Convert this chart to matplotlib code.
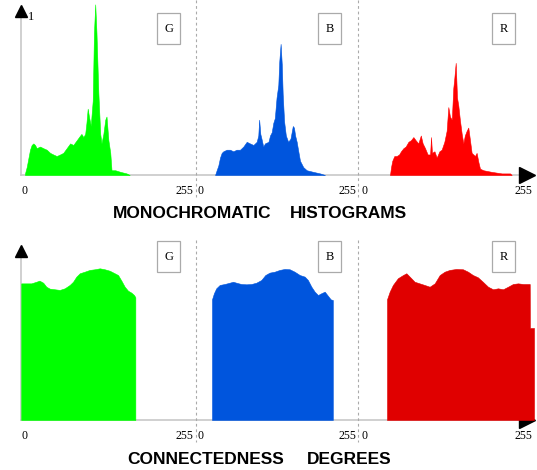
import numpy as np
import matplotlib
matplotlib.use("Agg")
import matplotlib.pyplot as plt
from matplotlib.patches import Rectangle

# ---- data ----
channels = ["G", "B", "R"]

# monochromatic histograms: intensity (0-255), relative height
g_hist_x = [0, 2.7, 8, 10.6, 13.3, 16, 18.6, 24, 29, 34.6, 40, 45, 50.5, 56, 61, 66.5, 72, 77,
            82.5, 88, 90, 93, 96, 98, 100, 102, 105, 106, 108, 110, 112, 114, 117, 120, 122,
            125, 128, 130, 133, 136, 138, 144, 152, 162, 167]
g_hist_y = [0.01, 0.05, 0.16, 0.19, 0.20, 0.19, 0.17, 0.18, 0.17, 0.16, 0.14, 0.13, 0.12, 0.13,
            0.14, 0.17, 0.20, 0.19, 0.22, 0.25, 0.26, 0.24, 0.26, 0.33, 0.42, 0.37, 0.31, 0.37,
            0.47, 0.90, 1.08, 0.90, 0.52, 0.26, 0.20, 0.26, 0.35, 0.37, 0.22, 0.14, 0.03, 0.03,
            0.02, 0.01, 0.0]

b_hist_x = [26, 28.7, 31.6, 34.5, 37.4, 40.2, 46, 51.7, 57.4, 63, 69, 74.7, 80.5, 86, 92, 97.7,
            100.5, 102, 104, 106, 109, 112, 118, 120.7, 123.6, 126.4, 129, 132, 135, 136.7, 139,
            141, 142.6, 145, 148, 152, 156, 160, 162, 164, 166.7, 169.5, 172.4, 178, 184, 195,
            207, 215.5]
b_hist_y = [0.0, 0.03, 0.06, 0.11, 0.14, 0.15, 0.16, 0.16, 0.15, 0.16, 0.16, 0.18, 0.21, 0.20,
            0.19, 0.21, 0.25, 0.35, 0.26, 0.23, 0.18, 0.20, 0.21, 0.25, 0.27, 0.33, 0.36, 0.49,
            0.57, 0.72, 0.83, 0.70, 0.51, 0.34, 0.25, 0.21, 0.23, 0.31, 0.30, 0.25, 0.21, 0.15,
            0.09, 0.05, 0.03, 0.02, 0.01, 0.0]

r_hist_x = [40.3, 42, 44, 47.3, 51, 55, 58, 62, 65.6, 70, 74, 78, 81.7, 86, 90, 93, 96.8, 101,
            105, 106.5, 108, 112, 115.6, 120, 123.6, 128, 131.7, 134.4, 137, 140, 142.4, 144,
            146.3, 148.4, 150.5, 153, 156, 158.6, 161, 164, 166.6, 169, 172, 174.7, 177.4, 180,
            183, 185.5, 191, 204, 220.5, 234, 236.6]
r_hist_y = [0.0, 0.05, 0.09, 0.12, 0.12, 0.13, 0.15, 0.17, 0.18, 0.21, 0.22, 0.24, 0.22, 0.20,
            0.25, 0.20, 0.17, 0.13, 0.13, 0.24, 0.14, 0.15, 0.11, 0.15, 0.16, 0.21, 0.28, 0.43,
            0.37, 0.35, 0.55, 0.61, 0.71, 0.49, 0.44, 0.35, 0.26, 0.20, 0.25, 0.28, 0.30, 0.23,
            0.14, 0.13, 0.12, 0.14, 0.08, 0.04, 0.03, 0.02, 0.01, 0.01, 0.0]

# connectedness degrees: intensity (0-255), relative degree
g_conn_x = [-6, 10, 18, 23, 29, 34, 39.4, 47.4, 55.4, 63.3, 71.3, 76.6, 81.9, 87.3, 95.2, 103.2,
            111.2, 119.2, 127.1, 135, 143, 148.4, 153.7, 159, 164.3, 169.6, 173.9, 176]
g_conn_y = [0.854, 0.854, 0.864, 0.871, 0.858, 0.833, 0.821, 0.817, 0.813, 0.823, 0.844, 0.864,
            0.896, 0.917, 0.927, 0.938, 0.942, 0.948, 0.942, 0.933, 0.917, 0.906, 0.871, 0.833,
            0.808, 0.796, 0.781, 0.767]

b_conn_x = [20.7, 24, 28, 34, 42.5, 51, 57, 62.6, 71, 80, 88.5, 97, 105.7, 112.6, 120, 128.7,
            137.4, 146, 154.6, 163, 172, 180.5, 186, 192, 197.7, 203.4, 209, 215, 219.5, 225.3,
            229]
b_conn_y = [0.754, 0.792, 0.823, 0.844, 0.850, 0.858, 0.864, 0.858, 0.850, 0.848, 0.850, 0.858,
            0.875, 0.906, 0.921, 0.927, 0.938, 0.944, 0.942, 0.927, 0.906, 0.896, 0.875, 0.833,
            0.802, 0.781, 0.792, 0.802, 0.781, 0.754, 0.750]

r_conn_x = [35.5, 39.8, 45, 53, 61.3, 66.7, 72, 80, 88, 96, 104.3, 112.4, 120.5, 128.5, 136.6,
            147.3, 158, 166, 174, 182, 190, 198.4, 206.5, 214.5, 222.6, 230.7, 238.7, 246.8, 255,
            265.7, 266, 272.6]
r_conn_y = [0.754, 0.802, 0.844, 0.886, 0.906, 0.917, 0.896, 0.864, 0.854, 0.844, 0.833, 0.854,
            0.906, 0.927, 0.938, 0.944, 0.942, 0.927, 0.906, 0.892, 0.864, 0.833, 0.817, 0.823,
            0.817, 0.833, 0.850, 0.854, 0.850, 0.850, 0.575, 0.575]

hist_x = [g_hist_x, b_hist_x, r_hist_x]
hist_y = [g_hist_y, b_hist_y, r_hist_y]
conn_x = [g_conn_x, b_conn_x, r_conn_x]
conn_y = [g_conn_y, b_conn_y, r_conn_y]

hist_colors = ["#00ff00", "#0055dd", "#ff0000"]
conn_colors = ["#00ff00", "#0055dd", "#e00000"]

# ---- layout (pixels) ----
W, H = 537, 470
seg_left = [21, 196, 358]
seg_right = [196, 358, 537]
zero_px = [25, 200, 365]
px_per_unit = [0.627, 0.58, 0.62]

fig = plt.figure(figsize=(W / 100, H / 100), dpi=100)
serif = "Liberation Serif"

bg = fig.add_axes([0, 0, 1, 1])
bg.set_xlim(0, W)
bg.set_ylim(H, 0)
bg.axis("off")


def panel(i, top, base, ymax):
    l, r = seg_left[i], seg_right[i]
    ax = fig.add_axes([l / W, 1 - base / H, (r - l) / W, (base - top) / H])
    ax.patch.set_alpha(0)
    ax.set_xlim((l - zero_px[i]) / px_per_unit[i], (r - zero_px[i]) / px_per_unit[i])
    ax.set_ylim(0, ymax)
    for s in ax.spines.values():
        s.set_visible(False)
    ax.set_yticks([])
    ax.set_xticks([0, 255])
    ax.set_xticklabels(["0", "255"], fontfamily=serif, fontsize=8.5)
    ax.tick_params(axis="x", length=0, pad=7)
    return ax


for row, (top, base, ymax) in enumerate([(0, 175, 175 / 158), (240, 420, 180 / 160)]):
    # axes lines, arrows, dividers
    bg.plot([21, 522], [base, base], color="#c8c8c8", lw=1.2, zorder=1)
    bg.plot([21, 21], [base, top + 15], color="#c8c8c8", lw=1.2, zorder=1)
    bg.plot(21, top + 11, marker="^", ms=9, color="black", zorder=5)
    bg.plot(527, base, marker=">", ms=11, color="black", zorder=5)
    for xd in [196, 358]:
        bg.plot([xd, xd], [top, base + 22], color="#aaaaaa", lw=0.8,
                linestyle=(0, (2.5, 2.5)), zorder=1)
    for i, ch in enumerate(channels):
        ax = panel(i, top, base, ymax)
        if row == 0:
            ax.fill_between(hist_x[i], hist_y[i], color=hist_colors[i], lw=0.4,
                            edgecolor=hist_colors[i])
        else:
            ax.fill_between(conn_x[i], conn_y[i], color=conn_colors[i], lw=0.4,
                            edgecolor=conn_colors[i])

# channel boxes
box_x = [157, 318, 492]
for row, ytop in enumerate([13, 241]):
    for i, ch in enumerate(channels):
        bg.add_patch(Rectangle((box_x[i], ytop), 23, 31, facecolor="white",
                               edgecolor="#aaaaaa", lw=0.9, zorder=4))
        bg.text(box_x[i] + 11.5, ytop + 16, ch, ha="center", va="center",
                fontfamily=serif, fontsize=9, zorder=6)

bg.text(28, 17, "1", ha="left", va="center", fontfamily=serif, fontsize=9)

# row titles, word by word
title_font = dict(fontfamily="Liberation Sans", fontweight="bold", fontsize=12.5,
                  ha="left", va="center")
bg.text(113, 214, "MONOCHROMATIC", **title_font)
bg.text(290, 214, "HISTOGRAMS", **title_font)
bg.text(127, 459, "CONNECTEDNESS", **title_font)
bg.text(307, 459, "DEGREES", **title_font)

fig.savefig("out.png", dpi=100)
